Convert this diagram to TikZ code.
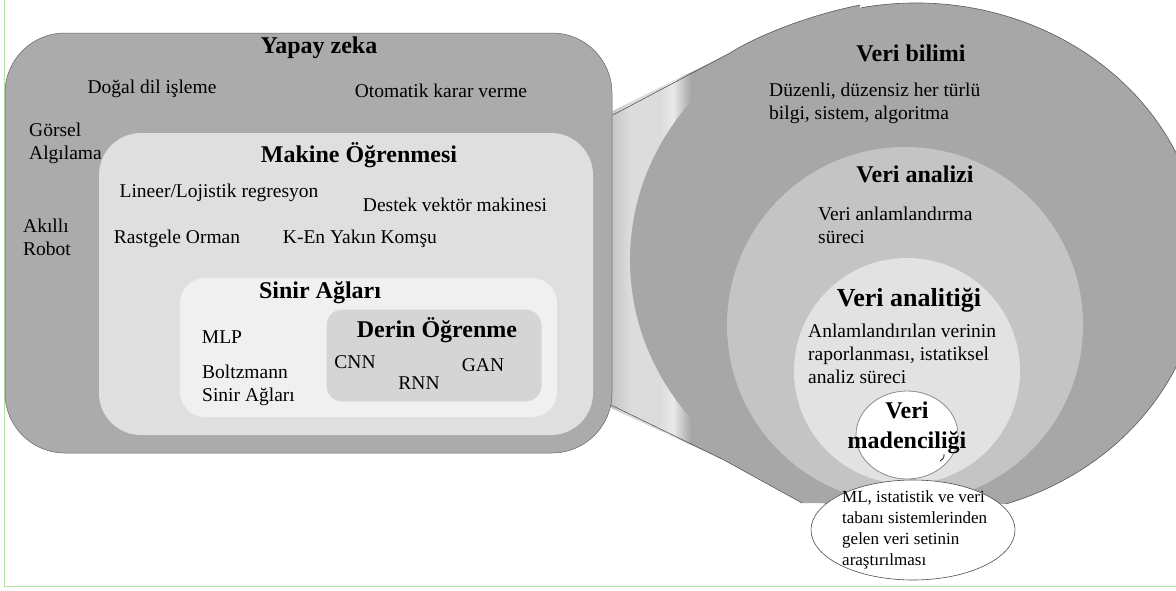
\documentclass[tikz,border=0pt]{standalone}
\usepackage{fontspec}
\setmainfont{Liberation Serif}
\usetikzlibrary{shapes.geometric}
\definecolor{aibox}{HTML}{ABABAB}
\definecolor{mlbox}{HTML}{DFDFDF}
\definecolor{nnbox}{HTML}{F0F0F0}
\definecolor{dlbox}{HTML}{D5D5D5}
\definecolor{dsfill}{HTML}{A7A7A7}
\definecolor{dafill}{HTML}{C4C4C4}
\definecolor{dtfill}{HTML}{E2E2E2}
\definecolor{stripa}{HTML}{BDBDBD}
\definecolor{stripb}{HTML}{DCDCDC}
\definecolor{stripc}{HTML}{E9E9E9}
\definecolor{greenline}{HTML}{B5DFA3}
\tikzset{
  txt/.style={font=\fontsize{19.5}{23}\selectfont, inner sep=0pt, align=left},
  ttl/.style={font=\fontsize{24}{30}\selectfont\bfseries, inner sep=0pt, align=center},
  smalltxt/.style={font=\fontsize{17}{21}\selectfont, inner sep=0pt, align=left},
  area/.style={rectangle, inner sep=0pt, outer sep=0pt},
  edgeline/.style={draw=black!65, line width=0.6pt},
}
\begin{document}
\begin{tikzpicture}[x=1pt,y=-1pt]
\useasboundingbox (0,0) rectangle (1176,590);
% page border lines
\draw[greenline, line width=1.2pt] (4.5,0) -- (4.5,586.5) -- (1176,586.5);

% funnel joining the two parts
\fill[dsfill] (605,115) -- (730,53) .. controls (750,40) and (800,17) .. (860,5)
   -- (880,300) -- (830,503) -- (802,503) -- (724,460) -- (605,405) -- cycle;
\begin{scope}
  \clip (605,115) -- (730,53) .. controls (750,40) and (800,17) .. (860,5)
   -- (880,300) -- (830,503) -- (802,503) -- (724,460) -- (605,405) -- cycle;
  \shade[left color=stripa, right color=stripb] (605,0) rectangle (630,590);
  \fill[stripb] (630,0) rectangle (660,590);
  \shade[left color=stripb, right color=stripc] (660,0) rectangle (673,590);
  \shade[left color=stripc, right color=dsfill] (673,0) rectangle (691,590);
\end{scope}

% nested circles of data science
\begin{scope}
  \clip (600,0) rectangle (1176,503);
  \node[ellipse, fill=dsfill, minimum width=572, minimum height=514, inner sep=0pt] (vb) at (916,260) {};
  \node[circle, fill=dafill, minimum size=356, inner sep=0pt] (va) at (905,325) {};
  \node[circle, fill=dtfill, minimum size=226, inner sep=0pt] (vt) at (907,371) {};
  \draw[edgeline] (vb.center) ++(-101:286 and 257) arc[start angle=-101, end angle=72, x radius=286, y radius=257];
\end{scope}
\draw[edgeline] (613,115) -- (730,53) .. controls (750,40) and (800,17) .. (860,5);
\draw[edgeline] (611,405) -- (724,460) -- (802,503);

% nested boxes of AI
\node[area, rounded corners=60pt, fill=aibox, draw=black!60, line width=0.5pt,
      minimum width=607, minimum height=420] (ai) at (308.5,243) {};
\node[area, rounded corners=42pt, fill=mlbox, minimum width=494, minimum height=302] (ml) at (346,284) {};
\node[area, rounded corners=25pt, fill=nnbox, minimum width=377, minimum height=139] (nn) at (368.5,347.5) {};
\node[area, rounded corners=16pt, fill=dlbox, minimum width=215, minimum height=92] (dl) at (434,355.5) {};

% data mining circle and ellipse
\node[ellipse, fill=white, draw=black!45, line width=0.8pt, minimum width=102, minimum height=88, inner sep=0pt] (vm) at (907,435) {};
\node[ellipse, fill=white, draw=black!70, line width=0.6pt, minimum width=204, minimum height=100, inner sep=0pt] (vme) at (913,530) {};

% AI texts
\node[ttl] (t-ai) at (319,48) {Yapay zeka};
\node[txt] (t-nlp) at (152,89) {Doğal dil işleme};
\node[txt] (t-auto) at (441,91) {Otomatik karar verme};
\node[txt, anchor=west] (t-vis) at (29,143) {Görsel\\Algılama};
\node[txt, anchor=west] (t-rob) at (23,237.5) {Akıllı\\Robot};
\node[ttl] (t-ml) at (359,155) {Makine Öğrenmesi};
\node[txt] (t-lin) at (219,193) {Lineer/Lojistik regresyon};
\node[txt] (t-svm) at (455,205) {Destek vektör makinesi};
\node[txt] (t-rf) at (177,239) {Rastgele Orman};
\node[txt] (t-knn) at (360,239) {K-En Yakın Komşu};
\node[ttl] (t-nn) at (320,293) {Sinir Ağları};
\node[txt] (t-mlp) at (222,337) {MLP};
\node[txt, anchor=west] (t-bm) at (202,385.5) {Boltzmann\\Sinir Ağları};
\node[ttl] (t-dl) at (437,330) {Derin Öğrenme};
\node[txt] (t-cnn) at (355,362) {CNN};
\node[txt] (t-rnn) at (419,383) {RNN};
\node[txt] (t-gan) at (483,365) {GAN};

% data science texts
\node[ttl] (t-vb) at (911,53) {Veri bilimi};
\node[txt, anchor=west] (t-vbd) at (769,103.5) {Düzenli, düzensiz her türlü\\bilgi, sistem, algoritma};
\node[ttl] (t-va) at (915,174) {Veri analizi};
\node[txt, anchor=west] (t-vad) at (818,225.5) {Veri anlamlandırma\\süreci};
\node[ttl, font=\fontsize{26}{30}\selectfont\bfseries] (t-vt) at (909,300) {Veri analitiği};
\node[txt, anchor=west] (t-vtd) at (808,353.5) {Anlamlandırılan verinin\\raporlanması, istatiksel\\analiz süreci};
\node[ttl] (t-vm) at (907,428) {Veri\\madenciliği};
\node[smalltxt, anchor=west] (t-vmd) at (842,529.5) {ML, istatistik ve veri\\tabanı sistemlerinden\\gelen veri setinin\\araştırılması};
\draw[line width=0.7pt] (944,454) .. controls (944,458) .. (940,461);
\end{tikzpicture}
\end{document}
